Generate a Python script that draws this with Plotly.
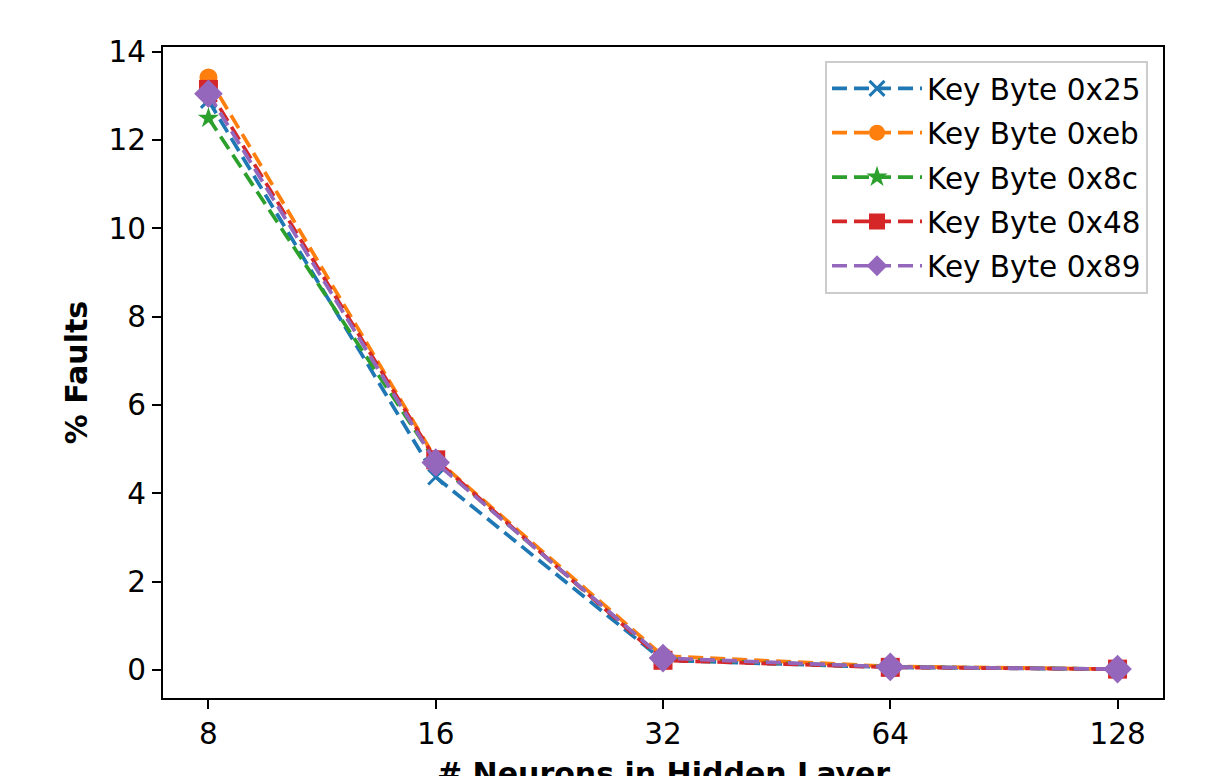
import plotly.graph_objects as go

# Hidden-layer sizes (categorical x axis)
neurons = ["8", "16", "32", "64", "128"]

# Percentage of faults per key byte
faults_0x25 = [12.90, 4.37, 0.22, 0.06, 0.02]
faults_0xeb = [13.42, 4.78, 0.32, 0.08, 0.02]
faults_0x8c = [12.50, 4.72, 0.25, 0.07, 0.02]
faults_0x48 = [13.15, 4.76, 0.22, 0.06, 0.02]
faults_0x89 = [13.05, 4.70, 0.27, 0.07, 0.02]

series = [
    ("Key Byte 0x25", faults_0x25, "#1f77b4", "x-thin", 15),
    ("Key Byte 0xeb", faults_0xeb, "#ff7f0e", "circle", 18),
    ("Key Byte 0x8c", faults_0x8c, "#2ca02c", "star", 16),
    ("Key Byte 0x48", faults_0x48, "#d62728", "square", 19),
    ("Key Byte 0x89", faults_0x89, "#9467bd", "diamond", 22),
]

FONT = "DejaVu Sans"
TICK_SIZE = 29.5
TITLE_SIZE = 30

fig = go.Figure()
for i, (name, vals, color, symbol, size) in enumerate(series):
    marker = dict(symbol=symbol, size=size, color=color)
    if symbol == "x-thin":
        marker["line"] = dict(color=color, width=3)
    else:
        marker["line"] = dict(width=0)
    fig.add_trace(go.Scatter(
        x=neurons, y=vals, name=name, mode="lines+markers",
        line=dict(color=color, width=3.7, dash="15px,7px"),
        marker=marker, legendgroup=f"g{i}",
    ))

fig.update_layout(
    width=1209, height=776,
    margin=dict(l=163, r=46, t=47, b=78),
    paper_bgcolor="white", plot_bgcolor="white",
    font=dict(family=FONT, size=TICK_SIZE, color="black"),
    showlegend=True,
    legend=dict(
        x=0.985, y=0.979, xanchor="right", yanchor="top",
        bgcolor="rgba(255,255,255,0.8)", bordercolor="#cccccc", borderwidth=2,
        font=dict(family=FONT, size=TICK_SIZE), tracegroupgap=3,
        traceorder="grouped", itemwidth=90,
    ),
    xaxis=dict(
        type="category", range=[-0.2, 4.2],
        showline=True, linecolor="black", linewidth=2, mirror=True,
        ticks="outside", ticklen=9, tickwidth=2, tickcolor="black",
        showgrid=False, zeroline=False, tickfont=dict(size=TICK_SIZE),
    ),
    yaxis=dict(
        range=[-0.634, 14.11], tickvals=list(range(0, 15, 2)),
        showline=True, linecolor="black", linewidth=2, mirror=True,
        ticks="outside", ticklen=9, tickwidth=2, tickcolor="black",
        showgrid=False, zeroline=False, tickfont=dict(size=TICK_SIZE),
        title=dict(text="<b>% Faults</b>", font=dict(size=TITLE_SIZE), standoff=12),
    ),
    annotations=[dict(
        text="<b># Neurons in Hidden Layer</b>", xref="paper", yref="paper",
        x=0.5, y=-0.086, xanchor="center", yanchor="top", showarrow=False,
        font=dict(family=FONT, size=TITLE_SIZE),
    )],
)

fig.write_html("out.html")
